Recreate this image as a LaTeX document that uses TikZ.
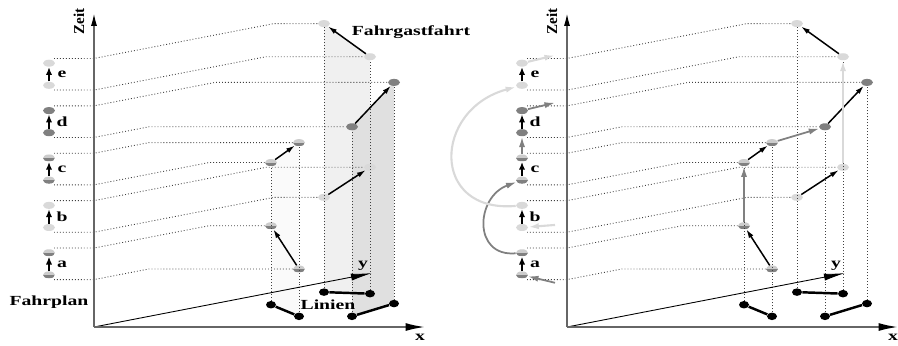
\documentclass[tikz,border=0pt]{standalone}
\usepackage{fontspec}
\setmainfont{Liberation Serif}
\usetikzlibrary{arrows.meta,shapes.geometric}
\tikzset{
  knoten/.style={ellipse,draw=none,minimum width=0.24cm,minimum height=0.14cm,inner sep=0pt},
  hell/.style={knoten,fill=black!15},
  dunkel/.style={knoten,fill=black!50},
  halb/.style={knoten,fill=black!20,path picture={\fill[black!50] (path picture bounding box.west) rectangle (path picture bounding box.south east);}},
  halte/.style={ellipse,fill=black,minimum width=0.2cm,minimum height=0.15cm,inner sep=0pt},
  raster/.style={black!75,line width=0.5pt,dash pattern=on 0.5pt off 1.2pt},
  linie/.style={line width=1.4pt},
  fahrt/.style={-{Latex[length=5pt,width=3pt]},line width=0.85pt},
  kurz/.style={-{Latex[length=4.5pt,width=3.6pt]},line width=1pt},
  zeitachse/.style={-{Latex[length=7.5pt,width=3.4pt,color=black]},black!60,line width=1pt},
  xachse/.style={-{Latex[length=11pt,width=4.5pt,color=black]},black!60,line width=1pt},
  yachse/.style={-{Latex[length=12pt,width=4pt]},line width=0.5pt},
  dunkelweg/.style={-{Latex[length=6pt,width=3.5pt]},black!50,line width=1pt},
  hellweg/.style={-{Latex[length=6pt,width=3.5pt]},black!15,line width=1.2pt},
  schrift/.style={font=\fontsize{7.9}{9}\selectfont\bfseries,inner sep=0pt,xscale=1.42},
}
\begin{document}
\begin{tikzpicture}[x=0.02cm,y=-0.02cm]
\useasboundingbox (0,0) rectangle (898,345);
\foreach \p/\dx in {0/0,1/473}{
\begin{scope}[shift={(94+\dx,327)},x={(0.02cm,0)},y={(0.02cm,0.00388cm)},z={(0,0.316cm)}]
  \ifnum\p=0
    \fill[black!2] (62,115,0) -- (150,55,0) -- (150,55,11) -- (62,115,9) -- cycle;
    \fill[black!6] (50,180,0) -- (104,172,0) -- (104,172,15) -- (50,180,17) -- cycle;
    \fill[black!12] (203,55,0) -- (179,121,0) -- (179,121,14) -- (203,55,12) -- cycle;
  \fi
  \coordinate (o\p) at (0,0,0);
  \coordinate (zt\p) at (0,0,19.9);
  \coordinate (xt\p) at (331,0,0);
  \coordinate (yt\p) at (0,278,0);
  \foreach \h/\gx/\gy in {A1/62/115,A2/150/55,B1/50/180,B2/104/172,C1/203/55,C2/179/121}
    \node[halte] (\h\p) at (\gx,\gy,0) {};
  \foreach \e/\s/\gx/\gy/\t/\o in {ab/halb/150/55/3/0.3,at/halb/62/115/5/-0.3,
      bb/hell/50/180/6/0.3,bt/hell/104/172/8/-0.3,cb/halb/62/115/9/0.3,ct/halb/150/55/11/-0.3,
      db/dunkel/203/55/12/0.3,dt/dunkel/179/121/14/-0.3,eb/hell/104/172/15/0.3,et/hell/50/180/17/-0.3}{
    \node[\s] (\e\p) at (\gx,\gy,\t) {};
    \node[\s] (f\e\p) at (-45,0,\t+\o) {};
    \draw[raster] (-40,0,\t) -- (0,0,\t) -- (0,\gy,\t) -- (\e\p);
  }
  \foreach \h/\e in {A1/cb,A2/ct,B1/et,B2/eb,C1/db,C2/dt}
    \draw[raster] (\h\p) -- (\e\p);
  \draw[yachse] (o\p) -- (yt\p);
  \draw[zeitachse] (o\p) -- (zt\p);
  \draw[xachse] (o\p) -- (xt\p);
  \foreach \u/\v in {A1/A2,B1/B2,C1/C2}
    \draw[linie] (\u\p) -- (\v\p);
  \foreach \n/\m in {a/4,b/7,c/10,d/13,e/16}{
    \draw[fahrt] (\n b\p) -- (\n t\p);
    \draw[kurz] (f\n b\p) -- (f\n t\p);
    \node[schrift] (l\n\p) at (-32,0,\m) {\n};
  }
  \node[font=\fontsize{8.6}{10}\selectfont\bfseries,inner sep=0pt,rotate=90] (zeit\p) at (-15,0,19.33) {Zeit};
  \node[schrift] (x\p) at (326,0,-0.63) {x};
  \node[schrift] (y\p) at (-9,278,0.44) {y};
  \ifnum\p=0
    \node[schrift] (fahrplan) at (-45,0,1.58) {Fahrplan};
    \node[schrift] (linien) at (234,0,1.39) {Linien};
    \node[schrift] (fahrgast) at (317,0,18.64) {Fahrgastfahrt};
  \else
    \draw[dunkelweg] (at1) -- (cb1);
    \draw[dunkelweg] (ct1) -- (db1);
    \draw[hellweg] (bt1) -- (eb1);
    \draw[dunkelweg] (fat1) to[out=185,in=200,looseness=1.56] (fcb1);
    \draw[hellweg] (fbt1) to[out=185,in=195,looseness=1.85] (feb1);
    \draw[dunkelweg] (fct1) -- (fdb1);
    \coordinate (ina) at (-12,0,2.8);
    \coordinate (inb) at (-12,0,6.46);
    \coordinate (ausd) at (-12,0,14.2);
    \coordinate (ause) at (-12,0,17.2);
    \draw[dunkelweg] (ina) -- (fab1);
    \draw[hellweg] (inb) -- (fbb1);
    \draw[dunkelweg] (fdt1) -- (ausd);
    \draw[hellweg] (fet1) -- (ause);
  \fi
\end{scope}}
\end{tikzpicture}
\end{document}
